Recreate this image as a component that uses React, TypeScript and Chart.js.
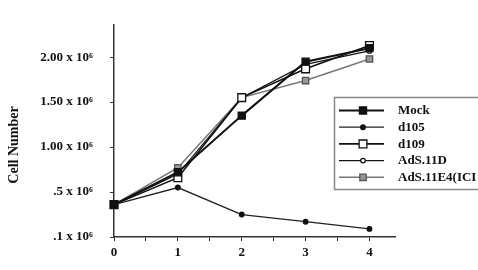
import React, { useEffect, useRef } from "react";
import { Chart, registerables } from "chart.js";

Chart.register(...registerables);

const days = [0, 1, 2, 3, 4];
const mock = [0.36, 0.72, 1.35, 1.95, 2.1];
const d105 = [0.36, 0.55, 0.25, 0.17, 0.09];
const d109 = [0.36, 0.66, 1.55, 1.87, 2.13];
const ads11D = [0.36, 0.7, 1.55, 1.92, 2.07];
const ads11E4 = [0.36, 0.77, 1.55, 1.74, 1.98];

const seriesNames = ["Mock", "d105", "d109", "AdS.11D", "AdS.11E4(ICI"];
const yTickValues = [0, 0.5, 1, 1.5, 2];
const yTickLabels = [".1 x 10⁶", ".5 x 10⁶", "1.00 x 10⁶", "1.50 x 10⁶", "2.00 x 10⁶"];
const xTickValues = [0, 0.5, 1, 1.5, 2, 2.5, 3, 3.5, 4];
const yTitle = "Cell Number";

const FONT = "'Liberation Serif', 'Times New Roman', serif";

type Style = {
  line: string;
  lw: number;
  shape: "rect" | "circle";
  r: number;
  fill: string;
  stroke: string;
};

const styles: Style[] = [
  { line: "#111", lw: 2, shape: "rect", r: 5, fill: "#111", stroke: "#111" },
  { line: "#222", lw: 1.3, shape: "circle", r: 2.3, fill: "#111", stroke: "#111" },
  { line: "#111", lw: 1.6, shape: "rect", r: 5.5, fill: "#fff", stroke: "#111" },
  { line: "#111", lw: 1.2, shape: "circle", r: 2.3, fill: "#fff", stroke: "#111" },
  { line: "#777", lw: 1.5, shape: "rect", r: 4.5, fill: "#999", stroke: "#555" },
];

const seriesData = [mock, d105, d109, ads11D, ads11E4];

const legendPlugin = {
  id: "customLegend",
  afterDraw(chart: any) {
    const ctx = chart.ctx as CanvasRenderingContext2D;
    ctx.save();
    ctx.save();
    ctx.translate(14, 145);
    ctx.rotate(-Math.PI / 2);
    ctx.fillStyle = "#111";
    ctx.font = `bold 14px ${FONT}`;
    ctx.textAlign = "center";
    ctx.textBaseline = "middle";
    ctx.fillText(yTitle, 0, 0);
    ctx.restore();

    const bx = 334.5, by = 97.5, bw = 220, bh = 92;
    ctx.fillStyle = "#fff";
    ctx.fillRect(bx, by, bw, bh);
    ctx.strokeStyle = "#888";
    ctx.lineWidth = 1.5;
    ctx.strokeRect(bx, by, bw, bh);
    seriesNames.forEach((name, i) => {
      const s = styles[i];
      const y = 110.5 + i * 16.7;
      ctx.strokeStyle = s.line;
      ctx.lineWidth = s.lw;
      ctx.beginPath();
      ctx.moveTo(339, y);
      ctx.lineTo(384, y);
      ctx.stroke();
      const cx = 363;
      ctx.fillStyle = s.fill;
      ctx.strokeStyle = s.stroke;
      ctx.lineWidth = 1.3;
      ctx.beginPath();
      if (s.shape === "rect") {
        const h = s.r * Math.SQRT1_2;
        ctx.rect(cx - h, y - h, 2 * h, 2 * h);
      } else {
        ctx.arc(cx, y, s.r, 0, Math.PI * 2);
      }
      ctx.fill();
      ctx.stroke();
      ctx.fillStyle = "#111";
      ctx.font = `bold 13px ${FONT}`;
      ctx.textBaseline = "middle";
      ctx.textAlign = "left";
      ctx.fillText(name, 398, y + 0.5);
    });
    ctx.restore();
  },
};

export default function App() {
  const ref = useRef<HTMLCanvasElement>(null);
  useEffect(() => {
    if (!ref.current) return;
    const chart = new Chart(ref.current, {
      type: "line",
      data: {
        datasets: seriesNames.map((name, i) => ({
          label: name,
          data: days.map((d, j) => ({ x: d, y: seriesData[i][j] })),
          borderColor: styles[i].line,
          borderWidth: styles[i].lw,
          pointStyle: styles[i].shape,
          pointRadius: styles[i].r,
          pointBackgroundColor: styles[i].fill,
          pointBorderColor: styles[i].stroke,
          pointBorderWidth: 1.3,
          tension: 0,
          fill: false,
          clip: false,
        })),
      },
      options: {
        animation: false,
        responsive: false,
        layout: { padding: { left: 0, top: 20, right: 83, bottom: 0 } },
        plugins: { legend: { display: false }, tooltip: { enabled: false } },
        scales: {
          x: {
            type: "linear",
            min: 0,
            max: 4.4,
            afterBuildTicks: (s: any) => {
              s.ticks = xTickValues.map((v) => ({ value: v }));
            },
            afterFit: (s: any) => {
              s.height = 33;
            },
            ticks: {
              autoSkip: false,
              maxRotation: 0,
              padding: 4,
              color: "#111",
              font: { family: FONT, size: 13, weight: "bold" },
              callback: (v: any) => (Number.isInteger(Number(v)) ? String(v) : ""),
            },
            grid: { drawOnChartArea: false, drawTicks: true, tickLength: 4, color: "#333" },
            border: { display: true, color: "#333", width: 1.5 },
          },
          y: {
            type: "linear",
            min: 0,
            max: 2.36,
            afterBuildTicks: (s: any) => {
              s.ticks = yTickValues.map((v) => ({ value: v }));
            },
            afterFit: (s: any) => {
              s.width = 114;
            },
            ticks: {
              padding: 17,
              color: "#111",
              font: { family: FONT, size: 13, weight: "bold" },
              callback: (v: any) => {
                const idx = yTickValues.indexOf(Number(v));
                return idx >= 0 ? yTickLabels[idx] : "";
              },
            },
            grid: { drawOnChartArea: false, drawTicks: true, tickLength: 4, color: "#333" },
            border: { display: true, color: "#333", width: 1.5 },
          },
        },
      },
      plugins: [legendPlugin],
    });
    return () => chart.destroy();
  }, []);
  return (
    <div style={{ position: "fixed", left: 0, top: 0, width: 478, height: 270, background: "#fff" }}>
      <canvas ref={ref} width={478} height={270} />
    </div>
  );
}
